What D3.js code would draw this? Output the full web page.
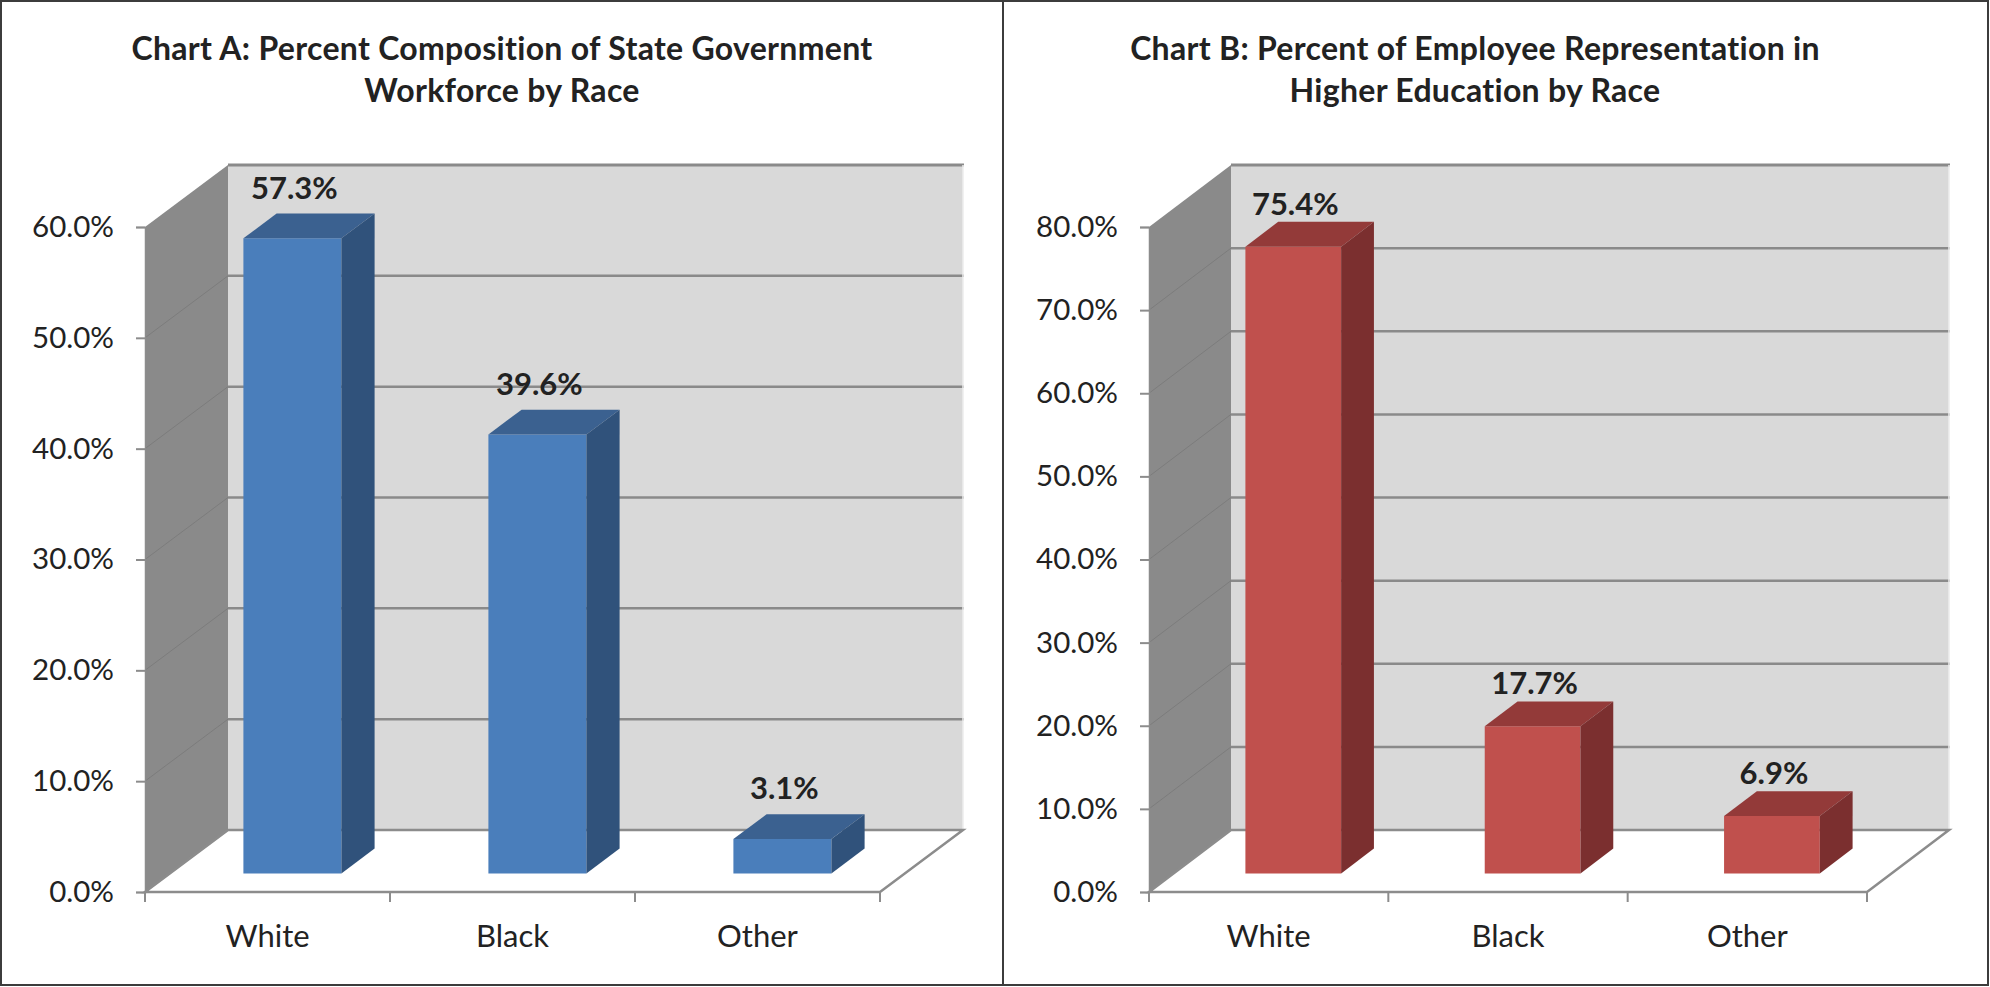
<!DOCTYPE html>
<html>
<head>
<meta charset="utf-8">
<script src="https://cdn.jsdelivr.net/npm/d3@7"></script>
<style>
  html, body { margin: 0; padding: 0; background: #ffffff; }
  svg { display: block; }
  text { font-family: Lato, "Open Sans", sans-serif; fill: #222222; }
</style>
</head>
<body>
<svg id="chart" width="1990" height="987"></svg>
<script>
// ---- data ----
const categories = ["White", "Black", "Other"];
const workforceValues = [57.3, 39.6, 3.1];
const higherEdValues = [75.4, 17.7, 6.9];
const workforceTicks = [0, 10, 20, 30, 40, 50, 60];
const higherEdTicks = [0, 10, 20, 30, 40, 50, 60, 70, 80];
const workforceTitle = ["Chart A: Percent Composition of State Government", "Workforce by Race"];
const higherEdTitle = ["Chart B: Percent of Employee Representation in", "Higher Education by Race"];

// ---- styling ----
const blue = { front: "#4a7ebb", top: "#3b6190", side: "#30527b" };
const red = { front: "#c0504d", top: "#933a39", side: "#7b2f2f" };

const svg = d3.select("#chart");

// outer frame and panel divider
svg.append("rect").attr("x", 1).attr("y", 1).attr("width", 1987).attr("height", 984)
  .attr("fill", "none").attr("stroke", "#3c3c3c").attr("stroke-width", 2);
svg.append("line").attr("x1", 1003).attr("x2", 1003).attr("y1", 1).attr("y2", 986)
  .attr("stroke", "#3c3c3c").attr("stroke-width", 2);

function drawChart(cfg) {
  const g = svg.append("g");
  const { left, right, floorY, topY, DX, DY } = cfg;

  const x = d3.scaleBand().domain(categories).range([left, right])
    .paddingInner(0.6).paddingOuter(0.3);
  const y = d3.scaleLinear().domain([0, d3.max(cfg.ticks)]).range([floorY, topY]);
  const maxV = d3.max(cfg.ticks);

  // project a point on the front plane back by depth fraction z
  const P = (px, v, z) => [px + z * DX, y(v) - z * DY];
  const poly = pts => "M" + pts.map(p => p.join(",")).join("L") + "Z";

  // side wall
  g.append("path")
    .attr("d", poly([P(left, 0, 0), P(left, 0, 1), P(left, maxV, 1), P(left, maxV, 0)]))
    .attr("fill", "#8a8a8a");
  // back wall
  g.append("path")
    .attr("d", poly([P(left, 0, 1), P(right, 0, 1), P(right, maxV, 1), P(left, maxV, 1)]))
    .attr("fill", "#d9d9d9");
  // floor
  g.append("path")
    .attr("d", poly([P(left, 0, 0), P(right, 0, 0), P(right, 0, 1), P(left, 0, 1)]))
    .attr("fill", "#ffffff");

  // gridlines on side wall (diagonals) and back wall
  g.selectAll(".sidegrid").data(cfg.ticks.filter(t => t > 0 && t < maxV)).join("line")
    .attr("x1", t => P(left, t, 0)[0]).attr("y1", t => P(left, t, 0)[1])
    .attr("x2", t => P(left, t, 1)[0]).attr("y2", t => P(left, t, 1)[1])
    .attr("stroke", "#7c7c7c").attr("stroke-width", 1);
  g.selectAll(".backgrid").data(cfg.ticks.filter(t => t > 0)).join("line")
    .attr("x1", t => P(left, t, 1)[0]).attr("y1", t => P(left, t, 1)[1])
    .attr("x2", t => P(right, t, 1)[0] + 1).attr("y2", t => P(right, t, 1)[1])
    .attr("stroke", "#8a8a8a").attr("stroke-width", t => t === maxV ? 3 : 2.5);
  // back wall right edge highlight
  g.append("line")
    .attr("x1", P(right, 0, 1)[0]).attr("y1", P(right, 0, 1)[1])
    .attr("x2", P(right, maxV, 1)[0]).attr("y2", P(right, maxV, 1)[1])
    .attr("stroke", "#ececec").attr("stroke-width", 1.5);
  // floor edges
  g.append("path")
    .attr("d", "M" + [P(left, 0, 1), P(right, 0, 1), P(right, 0, 0), P(left, 0, 0), P(left, 0, 1)].map(p => p.join(",")).join("L"))
    .attr("fill", "none").attr("stroke", "#8c8c8c").attr("stroke-width", 2.5)
    .attr("stroke-linejoin", "miter");

  // value axis on the front-left edge
  const yAxis = d3.axisLeft(y).tickValues(cfg.ticks).tickSize(9).tickPadding(22)
    .tickFormat(v => v.toFixed(1) + "%");
  const ya = g.append("g").attr("transform", `translate(${left},0)`).call(yAxis);
  ya.select(".domain").attr("stroke", "#8c8c8c").attr("stroke-width", 1.5);
  ya.selectAll(".tick line").attr("stroke", "#8c8c8c").attr("stroke-width", 2);
  ya.selectAll(".tick text").attr("font-size", 29.5).attr("font-family", "Lato").attr("fill", "#222");

  // category axis: boundary ticks and centered labels
  const bounds = d3.range(categories.length + 1).map(i => left + i * x.step());
  g.selectAll(".xtick").data(bounds).join("line")
    .attr("x1", d => d).attr("x2", d => d)
    .attr("y1", floorY).attr("y2", floorY + 10)
    .attr("stroke", "#8c8c8c").attr("stroke-width", 2);
  g.selectAll(".xlabel").data(categories).join("text")
    .attr("x", d => left + (categories.indexOf(d) + 0.5) * x.step())
    .attr("y", 947).attr("text-anchor", "middle")
    .attr("font-size", 31).text(d => d);

  // 3D bars, depth from 0.3 to 0.7
  const z0 = 0.3, z1 = 0.7;
  const bars = g.selectAll(".bar").data(cfg.values.map((v, i) => ({ v, c: categories[i] }))).join("g");
  bars.each(function (d) {
    const b = d3.select(this);
    const x0 = x(d.c), x1 = x(d.c) + x.bandwidth();
    // front
    b.append("path").attr("d", poly([P(x0, 0, z0), P(x1, 0, z0), P(x1, d.v, z0), P(x0, d.v, z0)]))
      .attr("fill", cfg.color.front);
    // top
    b.append("path").attr("d", poly([P(x0, d.v, z0), P(x1, d.v, z0), P(x1, d.v, z1), P(x0, d.v, z1)]))
      .attr("fill", cfg.color.top);
    // side
    b.append("path").attr("d", poly([P(x1, 0, z0), P(x1, 0, z1), P(x1, d.v, z1), P(x1, d.v, z0)]))
      .attr("fill", cfg.color.side);
    // value label, centred over the front face
    b.append("text")
      .attr("x", P(x0 + x.bandwidth() / 2, d.v, z0)[0] + 2)
      .attr("y", P(x0, d.v, z1)[1] - cfg.labelGap)
      .attr("text-anchor", "middle").attr("font-size", 31).attr("font-weight", 700)
      .text(d.v.toFixed(1) + "%");
  });

  // title
  g.selectAll(".title").data(cfg.title).join("text")
    .attr("x", cfg.titleX).attr("y", (d, i) => 60 + i * 42)
    .attr("text-anchor", "middle").attr("font-size", 32).attr("font-weight", 700)
    .attr("letter-spacing", 0.3)
    .text(d => d);
}

drawChart({
  values: workforceValues, ticks: workforceTicks, title: workforceTitle, color: blue,
  left: 145, right: 880, floorY: 892, topY: 227, DX: 83, DY: 62, titleX: 502, labelGap: 15
});
drawChart({
  values: higherEdValues, ticks: higherEdTicks, title: higherEdTitle, color: red,
  left: 1149, right: 1867, floorY: 892, topY: 227, DX: 82, DY: 62, titleX: 1475, labelGap: 7
});
</script>
</body>
</html>
